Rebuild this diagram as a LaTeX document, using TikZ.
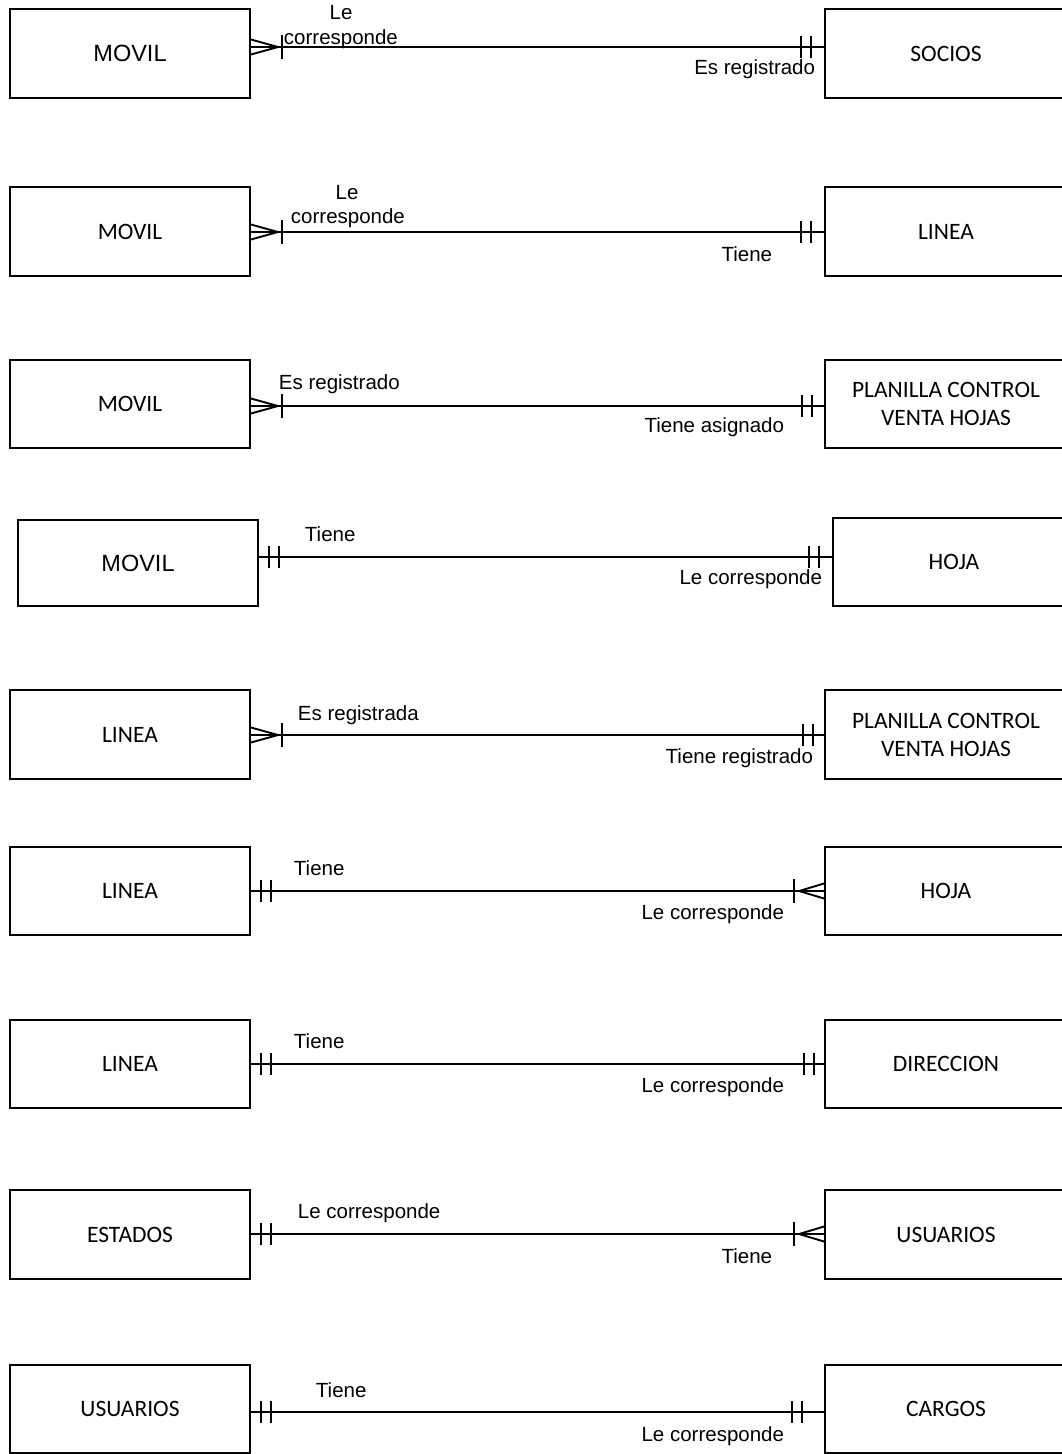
\documentclass[tikz,border=0pt]{standalone}
\usepackage{fontspec}
\setmainfont{Liberation Sans}
\newfontfamily\boxfont{Carlito}
\usetikzlibrary{calc}

% cardinality marks at a connector end (coordinates in a y-down frame)
\newcommand\manyLeft[1]{%
  \draw (#1) ++(0,-7.5) -- ++(27,7.5) -- ++(-27,7.5);
  \draw (#1) ++(31,-12) -- ++(0,24);}
\newcommand\oneLeft[1]{%
  \draw (#1) ++(10,-11) -- ++(0,22);
  \draw (#1) ++(20,-11) -- ++(0,22);}
\newcommand\manyRight[1]{%
  \draw (#1) ++(0,-7.5) -- ++(-25,7.5) -- ++(25,7.5);
  \draw (#1) ++(-30,-12) -- ++(0,24);}
\newcommand\oneRight[2]{%
  \draw (#1) ++(-#2,-11) -- ++(0,22);
  \draw (#1) ++(-#2+10,-11) -- ++(0,22);}

\begin{document}
\begin{tikzpicture}[x=1pt,y=-1pt,line width=1.9pt,
  entity/.style={draw,minimum width=240pt,minimum height=88pt,inner sep=0pt,
    align=center,font=\boxfont\fontsize{23.5}{28}\selectfont},
  entityA/.style={entity,font=\fontsize{23.5}{28}\selectfont},
  lab/.style={inner sep=0pt,font=\fontsize{20.5}{24}\selectfont}]
\useasboundingbox (0,0) rectangle (1062,1454);

% ---- MOVIL / SOCIOS
\node[entityA,minimum height=89pt] (l1) at (130,53.5) {MOVIL};
\node[entity,minimum width=242pt,minimum height=89pt] (r1) at (946,53.5) {SOCIOS};
\coordinate (a1) at ([yshift=6.5pt]l1.east);
\coordinate (b1) at ([yshift=6.5pt]r1.west);
\draw (a1) -- (b1);
\manyLeft{a1}\oneRight{b1}{23}
\node[lab] at (341,13) {Le};
\node[lab,anchor=base west] at (283,44) {corresponde};
\node[lab,anchor=base east] at (816,74) {Es registrado};

% ---- MOVIL / LINEA
\node[entity,minimum height=89pt] (l2) at (130,231.5) {MOVIL};
\node[entity,minimum width=242pt,minimum height=89pt] (r2) at (946,231.5) {LINEA};
\coordinate (a2) at ([yshift=-0.5pt]l2.east);
\coordinate (b2) at ([yshift=-0.5pt]r2.west);
\draw (a2) -- (b2);
\manyLeft{a2}\oneRight{b2}{23}
\node[lab,anchor=base] at (347,199) {Le};
\node[lab,anchor=base west] at (290,223) {corresponde};
\node[lab,anchor=base east] at (773,261) {Tiene};

% ---- MOVIL / PLANILLA CONTROL VENTA HOJAS
\node[entity] (l3) at (130,404) {MOVIL};
\node[entity,minimum width=242pt] (r3) at (946,404) {PLANILLA CONTROL\\VENTA HOJAS};
\coordinate (a3) at ([yshift=-2pt]l3.east);
\coordinate (b3) at ([yshift=-2pt]r3.west);
\draw (a3) -- (b3);
\manyLeft{a3}\oneRight{b3}{22}
\node[lab,anchor=base west] at (278,389) {Es registrado};
\node[lab,anchor=base east] at (785,432) {Tiene asignado};

% ---- MOVIL / HOJA
\node[entityA,minimum height=86pt] (l4) at (138,563) {MOVIL};
\node[entity,minimum width=242pt] (r4) at (954,562) {HOJA};
\coordinate (a4) at ([yshift=6pt]l4.east);
\coordinate (b4) at ([yshift=5pt]r4.west);
\draw (a4) -- (b4);
\oneLeft{a4}\oneRight{b4}{23}
\node[lab,anchor=base west] at (304,541) {Tiene};
\node[lab,anchor=base east] at (823,584) {Le corresponde};

% ---- LINEA / PLANILLA CONTROL VENTA HOJAS
\node[entity,minimum height=89pt] (l5) at (130,734.5) {LINEA};
\node[entity,minimum width=242pt,minimum height=89pt] (r5) at (946,734.5) {PLANILLA CONTROL\\VENTA HOJAS};
\coordinate (a5) at ([yshift=-0.5pt]l5.east);
\coordinate (b5) at ([yshift=-0.5pt]r5.west);
\draw (a5) -- (b5);
\manyLeft{a5}\oneRight{b5}{21}
\node[lab,anchor=base west] at (297,720) {Es registrada};
\node[lab,anchor=base east] at (814,763) {Tiene registrado};

% ---- LINEA / HOJA
\node[entity] (l6) at (130,891) {LINEA};
\node[entity,minimum width=242pt] (r6) at (946,891) {HOJA};
\coordinate (a6) at (l6.east);
\coordinate (b6) at (r6.west);
\draw (a6) -- (b6);
\oneLeft{a6}\manyRight{b6}
\node[lab,anchor=base west] at (293,875) {Tiene};
\node[lab,anchor=base east] at (785,919) {Le corresponde};

% ---- LINEA / DIRECCION
\node[entity] (l7) at (130,1064) {LINEA};
\node[entity,minimum width=242pt] (r7) at (946,1064) {DIRECCION};
\coordinate (a7) at (l7.east);
\coordinate (b7) at (r7.west);
\draw (a7) -- (b7);
\oneLeft{a7}\oneRight{b7}{20}
\node[lab,anchor=base west] at (293,1048) {Tiene};
\node[lab,anchor=base east] at (785,1092) {Le corresponde};

% ---- ESTADOS / USUARIOS
\node[entity,minimum height=89pt] (l8) at (130,1234.5) {ESTADOS};
\node[entity,minimum width=242pt,minimum height=89pt] (r8) at (946,1234.5) {USUARIOS};
\coordinate (a8) at ([yshift=0.5pt]l8.east);
\coordinate (b8) at ([yshift=0.5pt]r8.west);
\draw (a8) -- (b8);
\oneLeft{a8}\manyRight{b8}
\node[lab,anchor=base west] at (297,1218) {Le corresponde};
\node[lab,anchor=base east] at (773,1263) {Tiene};

% ---- USUARIOS / CARGOS
\node[entity] (l9) at (130,1409) {USUARIOS};
\node[entity,minimum width=242pt] (r9) at (946,1409) {CARGOS};
\coordinate (a9) at ([yshift=-3pt]l9.east);
\coordinate (b9) at ([yshift=-3pt]r9.west);
\draw (a9) -- (b9);
\oneLeft{a9}\oneRight{b9}{32}
\node[lab,anchor=base west] at (315,1397) {Tiene};
\node[lab,anchor=base east] at (785,1441) {Le corresponde};
\end{tikzpicture}
\end{document}
